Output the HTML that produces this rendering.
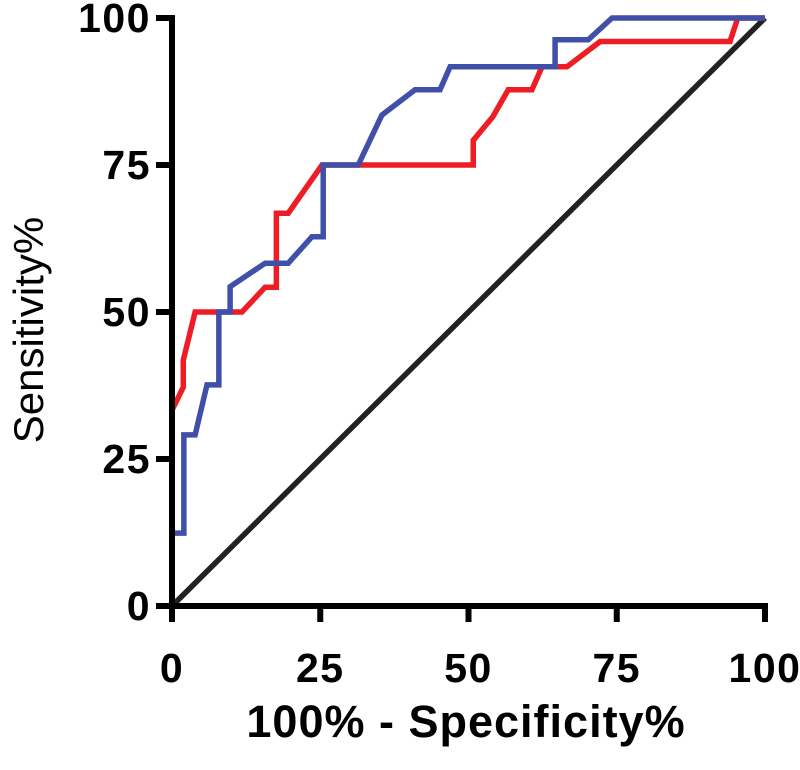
<!DOCTYPE html>
<html><head><meta charset="utf-8"><style>
html,body{margin:0;padding:0;background:#fff;}
svg{display:block;font-family:"Liberation Sans",Arial,sans-serif;}
</style></head><body>
<svg id="chart" width="800" height="770" viewBox="0 0 800 770"></svg>
<script>
const xTicks=[0,25,50,75,100];
const yTicks=[0,25,50,75,100];
const redX=[0,0,1.9,1.9,3.9,11.8,15.7,17.6,17.6,19.6,25.3,50.8,50.8,54.1,56.7,60.7,62.4,66.6,72.2,94.1,95.4,100];
const redY=[0,33.3,37.2,41.8,50,50,54.2,54.2,66.8,66.8,75,75,79.2,83.2,87.8,87.8,91.7,91.7,96,96,100,100];
const blueX=[0,0,2,2,3.9,5.9,7.9,7.9,9.8,9.8,15.7,19.6,23.6,25.5,25.5,31.4,35.4,41,45.2,46.9,64.6,64.6,70.2,74.2,100];
const blueY=[0,12.4,12.4,29.1,29.1,37.6,37.6,50,50,54.3,58.3,58.3,62.8,62.8,75,75,83.5,87.8,87.8,91.7,91.7,96.3,96.3,100,100];
const refX=[0,100];
const refY=[0,100];
const X0=172,X1=765,Y0=606,Y1=18;
const sx=v=>X0+(X1-X0)*v/100;
const sy=v=>Y0-(Y0-Y1)*v/100;
const NS="http://www.w3.org/2000/svg";
const svg=document.getElementById('chart');
function mk(tag,attrs){const e=document.createElementNS(NS,tag);for(const k in attrs)e.setAttribute(k,attrs[k]);svg.appendChild(e);return e;}
function line(xs,ys,color,name){
  const pts=xs.map((x,i)=>sx(x)+','+sy(ys[i])).join(' ');
  const p=mk('polyline',{points:pts,fill:'none',stroke:color,'stroke-width':5.5,'stroke-linejoin':'miter'});
  
  
}
line(refX,refY,'#222','reference-line');
line(redX,redY,'#ee1c24','red-roc-curve');
line(blueX,blueY,'#4050a8','blue-roc-curve');
const ya=mk('line',{x1:X0,y1:Y1-3,x2:X0,y2:Y0+3,stroke:'#000','stroke-width':6});


const xa=mk('line',{x1:X0-3,y1:Y0,x2:X1+3,y2:Y0,stroke:'#000','stroke-width':6});


xTicks.forEach(t=>{
  const l=mk('line',{x1:sx(t),y1:Y0,x2:sx(t),y2:Y0+16,stroke:'#000','stroke-width':6});
  
  
  const tx=mk('text',{x:sx(t),y:682,'text-anchor':'middle','font-size':41,'font-weight':'bold','letter-spacing':1.5});
  tx.textContent=t;
  
  
});
yTicks.forEach(t=>{
  const l=mk('line',{x1:X0-16,y1:sy(t),x2:X0,y2:sy(t),stroke:'#000','stroke-width':6});
  
  
  const tx=mk('text',{x:151,y:sy(t)+14,'text-anchor':'end','font-size':41,'font-weight':'bold','letter-spacing':1.5});
  tx.textContent=t;
  
  
});
const xt=mk('text',{x:466,y:737,'text-anchor':'middle','font-size':45,'font-weight':'bold','letter-spacing':1});
xt.textContent='100% - Specificity%';


const yt=mk('text',{x:0,y:0,'text-anchor':'middle','font-size':42,transform:'translate(43,330) rotate(-90)'});
yt.textContent='Sensitivity%';


</script>
</body></html>
